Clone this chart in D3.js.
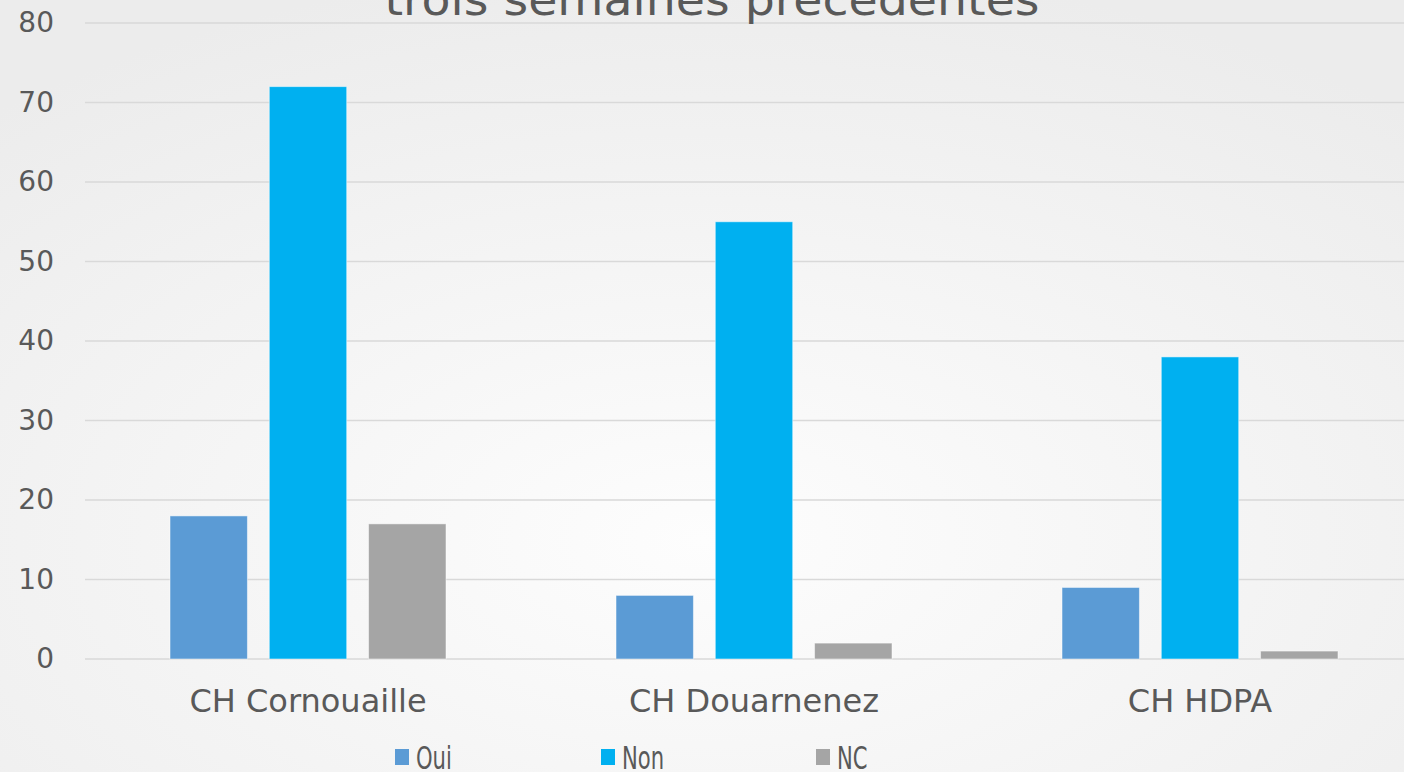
<!DOCTYPE html>
<html>
<head>
<meta charset="utf-8">
<script src="https://cdn.jsdelivr.net/npm/d3@7"></script>
<style>
  html, body { margin: 0; padding: 0; overflow: hidden; }
  body { width: 1404px; height: 772px; }
  text { font-family: "DejaVu Sans", "Noto Sans", sans-serif; fill: #595959; }
</style>
</head>
<body>
<div id="chart"></div>
<script>
// Chart data
const categories = ["CH Cornouaille", "CH Douarnenez", "CH HDPA"];
const seriesNames = ["Oui", "Non", "NC"];
const ouiValues = [18, 8, 9];
const nonValues = [72, 55, 38];
const ncValues = [17, 2, 1];
const yTicks = [0, 10, 20, 30, 40, 50, 60, 70, 80];
const colors = ["#5B9BD5", "#00B0F0", "#A5A5A5"];

const series = [ouiValues, nonValues, ncValues];

const width = 1404, height = 772;
const margin = {top: 23, bottom: 113, left: 85};

const svg = d3.select("#chart")
    .append("svg")
    .attr("width", width)
    .attr("height", height);

// Background gradient (light centre, greyer edges)
const defs = svg.append("defs");
const grad = defs.append("radialGradient")
    .attr("id", "bg")
    .attr("cx", "50%").attr("cy", "70%").attr("r", "75%");
grad.append("stop").attr("offset", "0%").attr("stop-color", "#fdfdfd");
grad.append("stop").attr("offset", "100%").attr("stop-color", "#ececec");
svg.append("rect")
    .attr("width", width).attr("height", height)
    .attr("fill", "url(#bg)");

// Scales
const x0 = d3.scaleBand()
    .domain(categories)
    .range([margin.left, 1423])
    .paddingInner(0)
    .paddingOuter(0);

const x1 = d3.scaleBand()
    .domain(seriesNames)
    .range([85, x0.bandwidth() - 85])
    .paddingInner(0.22);

const y = d3.scaleLinear()
    .domain([0, 80])
    .range([height - margin.bottom, margin.top]);

// Gridlines
svg.append("g")
    .selectAll("line")
    .data(yTicks)
    .enter().append("line")
    .attr("x1", margin.left)
    .attr("x2", width)
    .attr("y1", d => y(d))
    .attr("y2", d => y(d))
    .attr("stroke", "#d9d9d9")
    .attr("stroke-width", 1.5);

// Y axis labels
const yAxis = svg.append("g")
    .attr("transform", `translate(${margin.left - 31},0)`)
    .call(d3.axisLeft(y).tickValues(yTicks).tickSize(0).tickPadding(0));
yAxis.select(".domain").remove();
yAxis.selectAll("text")
    .style("font-size", "28px")
    .style("font-family", "'DejaVu Sans', sans-serif")
    .attr("fill", "#595959");

// Bars
const groups = svg.append("g")
    .selectAll("g")
    .data(categories)
    .enter().append("g")
    .attr("transform", d => `translate(${x0(d)},0)`);

groups.selectAll("rect")
    .data((d, i) => seriesNames.map((s, j) => ({s, v: series[j][i], c: colors[j]})))
    .enter().append("rect")
    .attr("x", d => x1(d.s))
    .attr("width", x1.bandwidth())
    .attr("y", d => y(d.v))
    .attr("height", d => y(0) - y(d.v))
    .attr("fill", d => d.c)
    .attr("stroke", "#ffffff")
    .attr("stroke-opacity", 0.5)
    .attr("stroke-width", 1);

// Category labels
svg.append("g")
    .selectAll("text")
    .data(categories)
    .enter().append("text")
    .attr("x", d => x0(d) + x0.bandwidth() / 2)
    .attr("y", 712)
    .attr("text-anchor", "middle")
    .style("font-size", "32px")
    .text(d => d);

// Title (cut off at top)
svg.append("text")
    .attr("x", 712)
    .attr("y", 15)
    .attr("text-anchor", "middle")
    .attr("textLength", 655)
    .attr("lengthAdjust", "spacingAndGlyphs")
    .style("font-size", "44px")
    .text("trois semaines précédentes");

// Legend
const legendX = [395, 601, 816];
const legend = svg.append("g")
    .selectAll("g")
    .data(seriesNames)
    .enter().append("g")
    .attr("transform", (d, i) => `translate(${legendX[i]},749)`);

legend.append("rect")
    .attr("width", 14)
    .attr("height", 16)
    .attr("fill", (d, i) => colors[i]);

legend.append("text")
    .attr("transform", "translate(21,20) scale(0.66,1)")
    .style("font-size", "32px")
    .text(d => d);
</script>
</body>
</html>
